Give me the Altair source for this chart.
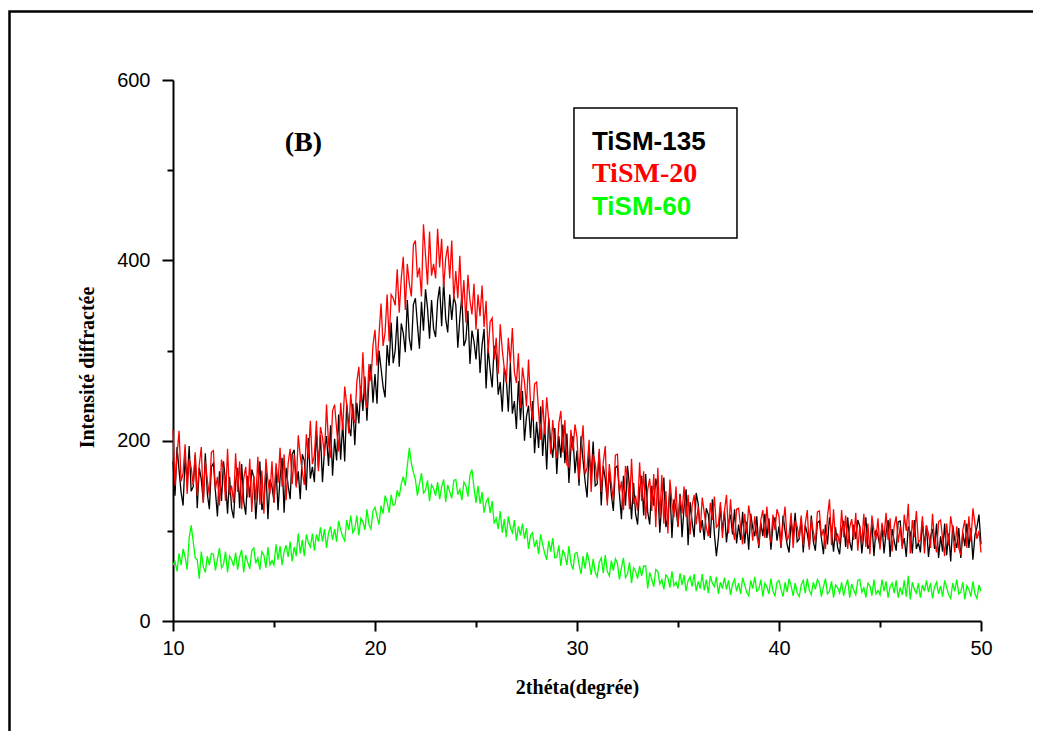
import altair as alt
import pandas as pd

x_start = 10.0
x_step = 0.1

black = [
177,139,193,167,143,128,182,153,194,144,
149,184,125,170,157,132,186,141,124,171,
175,144,116,166,133,177,155,119,160,125,
114,154,170,125,174,133,118,161,137,168,
159,113,148,177,123,134,168,113,157,149,
132,170,123,159,181,120,170,150,135,185,
190,150,166,135,185,178,145,203,158,171,
154,211,170,206,154,190,205,172,217,161,
202,178,229,179,220,177,241,217,205,241,
195,242,219,261,233,271,222,266,285,242,
274,241,300,280,260,248,306,283,331,286,
300,338,282,330,319,298,356,313,300,351,
358,329,302,354,322,368,347,313,356,324,
315,355,371,327,377,335,320,362,334,360,
351,303,336,361,305,312,344,285,322,310,
290,324,275,306,324,258,303,278,259,305,
295,251,265,232,281,269,232,286,230,244,
213,266,223,255,200,227,239,203,244,186,
221,192,238,183,218,168,225,198,181,214,
163,205,181,218,175,208,153,192,205,164,
189,150,205,178,155,137,189,159,199,150,
152,187,128,172,157,133,166,140,122,170,
172,141,113,161,128,172,149,113,153,119,
107,146,161,117,163,121,107,150,128,158,
145,98,132,159,104,115,148,92,135,124,
105,141,93,126,146,84,132,110,93,142,
130,98,112,90,125,118,92,135,97,72,
92,127,99,122,87,109,118,96,124,86,
107,90,121,86,110,79,119,103,94,116,
81,109,94,119,92,114,79,106,115,89,
105,81,117,100,85,76,111,93,120,88,
91,114,76,106,97,82,117,88,78,109,
111,92,74,107,85,115,100,77,104,82,
74,101,111,82,115,88,78,107,91,112,
105,75,97,115,80,86,109,72,101,95,
82,106,75,98,112,71,102,89,78,110,
111,83,92,71,105,98,75,112,80,87,
76,111,83,106,71,93,102,80,108,70,
94,77,108,73,97,66,106,90,81,103,
70,98,83,108,81,103,68,95,104,118,
85]

red = [
212,150,184,211,155,164,196,141,180,170,
151,187,139,173,193,131,177,156,139,187,
189,146,160,128,179,168,133,191,140,150,
131,186,143,177,124,158,171,137,180,121,
161,134,182,129,167,119,180,155,141,177,
131,175,153,192,149,185,134,175,191,152,
184,148,206,183,166,151,207,180,222,174,
184,222,166,215,204,183,240,197,181,233,
240,213,188,242,212,260,240,208,252,225,
220,265,282,243,298,247,236,285,266,306,
323,283,318,352,305,320,362,310,362,358,
350,390,342,380,404,345,396,374,360,417,
422,381,392,360,440,406,373,432,383,396,
380,435,392,424,370,402,416,380,422,356,
388,358,405,348,378,331,384,356,340,374,
323,362,338,372,326,355,297,332,336,290,
314,274,329,301,280,264,314,286,325,276,
264,297,236,281,265,238,290,241,223,263,
265,232,201,245,207,248,223,185,223,193,
181,219,233,187,223,173,171,212,189,218,
204,157,190,217,163,170,201,143,185,175,
155,191,143,176,194,128,174,152,134,184,
185,142,155,123,172,160,124,180,130,139,
122,176,133,166,113,146,158,122,163,104,
170,114,162,108,144,97,157,131,115,149,
104,139,119,149,115,140,96,128,140,107,
127,100,137,120,104,94,131,112,138,104,
107,132,92,122,140,97,135,104,90,124,
125,104,85,119,97,128,112,89,116,95,
84,112,123,92,127,98,87,118,101,124,
116,83,107,127,89,96,120,81,111,105,
92,117,84,108,123,79,113,99,87,121,
122,93,102,80,116,135,84,124,89,97,
85,123,93,117,80,104,113,90,120,78,
105,86,119,82,108,74,117,100,90,114,
79,109,93,120,90,114,77,105,116,87,
105,80,118,100,130,75,112,93,122,87,
90,116,75,106,97,81,119,88,76,110,
112,91,72,108,84,116,101,76,105,81,
73,101,112,81,116,88,125,108,91,100,
76]

green = [
62,66,55,75,62,80,71,57,92,106,
88,70,68,47,77,60,54,72,62,75,
74,56,69,81,59,63,77,54,72,68,
61,76,57,71,79,54,73,65,58,78,
81,64,70,57,77,73,59,82,62,67,
62,85,68,83,62,77,84,71,88,66,
82,72,97,75,90,72,96,87,82,97,
78,96,88,104,88,102,81,98,105,90,
102,88,111,101,94,89,112,101,117,98,
102,117,95,114,110,101,124,107,102,122,
126,116,107,128,119,139,132,120,140,128,
130,145,138,152,160,150,172,192,175,165,
157,139,152,164,142,145,156,133,151,147,
139,154,135,149,157,132,151,143,136,156,
157,140,146,134,154,150,138,162,168,148,
131,150,130,143,120,132,136,120,133,108,
114,102,122,98,113,93,116,104,98,112,
89,105,95,108,91,103,80,95,98,82,
90,74,96,85,75,68,89,77,92,70,
71,84,61,79,73,62,83,64,57,75,
76,63,52,72,58,76,66,51,69,54,
49,65,70,53,73,55,50,67,56,69,
64,46,59,70,48,52,65,42,59,55,
47,61,50,61,61,36,54,46,38,57,
55,41,46,35,51,48,37,55,39,43,
36,53,40,51,33,45,49,38,52,33,
44,36,52,34,46,31,50,42,38,49,
30,43,36,48,35,45,29,41,46,33,
42,30,48,40,32,28,45,36,49,33,
35,46,27,42,38,30,47,33,28,43,
45,35,27,43,32,47,39,28,42,31,
27,40,45,31,47,34,29,43,35,46,
42,27,38,47,30,33,44,26,40,37,
31,43,28,39,46,26,41,34,29,45,
46,32,37,26,42,39,28,46,30,34,
29,46,33,44,26,38,42,31,45,26,
37,29,45,27,50,24,43,35,31,42,
26,40,33,45,32,42,25,38,43,30,
39,27,45,37,29,25,42,33,46,30,
32,43,24,39,35,27,44,30,25,40,
33]

series_names = ["TiSM-135", "TiSM-20", "TiSM-60"]
series_colors = ["#000000", "#ff0000", "#00ff00"]
series_values = [black, red, green]

x_ticks = [10, 15, 20, 25, 30, 35, 40, 45, 50]
y_ticks = [0, 100, 200, 300, 400, 500, 600]

rows = []
for name, vals in zip(series_names, series_values):
    for i, v in enumerate(vals):
        rows.append({"x": round(x_start + i * x_step, 2), "y": v, "s": name})
df = pd.DataFrame(rows)

x_axis = alt.Axis(
    values=x_ticks,
    labelExpr="datum.value % 10 == 0 ? datum.label : ''",
    tickSize={"condition": {"test": "datum.value % 10 == 0", "value": 10}, "value": 6},
    tickWidth=2, tickColor="black", domainColor="black", domainWidth=2,
    labelFont="Liberation Sans", labelFontSize=20, labelColor="black",
    labelPadding=7, labelFlush=False, grid=False,
    title="2théta(degrée)", titleFont="Liberation Serif", titleFontWeight="bold",
    titleFontSize=20, titleColor="black", titlePadding=19,
)
y_axis = alt.Axis(
    values=y_ticks,
    labelExpr="datum.value % 200 == 0 ? datum.label : ''",
    tickSize={"condition": {"test": "datum.value % 200 == 0", "value": 11}, "value": 6},
    tickWidth=2, tickColor="black", domainColor="black", domainWidth=2,
    labelFont="Liberation Sans", labelFontSize=20, labelColor="black",
    labelPadding=12, labelFlush=False, grid=False,
    title="Intensité diffractée", titleFont="Liberation Serif", titleFontWeight="bold",
    titleFontSize=20, titleColor="black", titleX=-76, titleY=287,
)

X = alt.X("x:Q", scale=alt.Scale(domain=[10, 50], nice=False, zero=False), axis=x_axis)
Y = alt.Y("y:Q", scale=alt.Scale(domain=[0, 600], nice=False), axis=y_axis)

layers = []
for name, col in zip(series_names, series_colors):
    layers.append(
        alt.Chart(df).transform_filter(alt.datum.s == name)
        .mark_line(color=col, strokeWidth=1.3)
        .encode(x=X, y=Y)
    )

# legend box and entries (data coordinates)
box = pd.DataFrame({"x": [29.85], "x2": [37.92], "y": [569.0], "y2": [424.8]})
box_layer = alt.Chart(box).mark_rect(filled=False, stroke="black", strokeWidth=1.5).encode(
    x=X, x2="x2:Q", y=Y, y2="y2:Q"
)

leg_sans = pd.DataFrame({"x": [30.74, 30.74], "y": [522.4, 450.3],
                         "label": ["TiSM-135", "TiSM-60"], "c": ["#000000", "#00ff00"]})
leg_serif = pd.DataFrame({"x": [30.74], "y": [486.9], "label": ["TiSM-20"], "c": ["#ff0000"]})

t_sans = alt.Chart(leg_sans).mark_text(
    font="Liberation Sans", fontWeight="bold", fontSize=26, align="left", baseline="alphabetic"
).encode(x=X, y=Y, text="label:N", color=alt.Color("c:N", scale=None))
t_serif = alt.Chart(leg_serif).mark_text(
    font="Liberation Serif", fontWeight="bold", fontSize=28, align="left", baseline="alphabetic"
).encode(x=X, y=Y, text="label:N", color=alt.Color("c:N", scale=None))

panel = pd.DataFrame({"x": [16.45], "y": [521.0], "label": ["(B)"]})
t_panel = alt.Chart(panel).mark_text(
    font="Liberation Serif", fontWeight="bold", fontSize=28, align="center",
    baseline="alphabetic", color="black"
).encode(x=X, y=Y, text="label:N")

frame = alt.Chart(alt.Data(values=[{}])).mark_rect(
    filled=False, stroke="black", strokeWidth=2.5
).encode(x=alt.value(-163.5), x2=alt.value(1000), y=alt.value(-68.5), y2=alt.value(800))

chart = alt.layer(*layers, box_layer, t_sans, t_serif, t_panel, frame).properties(
    width=808, height=541,
    autosize=alt.AutoSizeParams(type="none"),
    padding={"left": 165, "top": 72, "right": 52, "bottom": 110},
    background="white",
).configure_view(strokeWidth=0)

chart.save("out.html", embed_options={"renderer": "svg", "actions": False})
